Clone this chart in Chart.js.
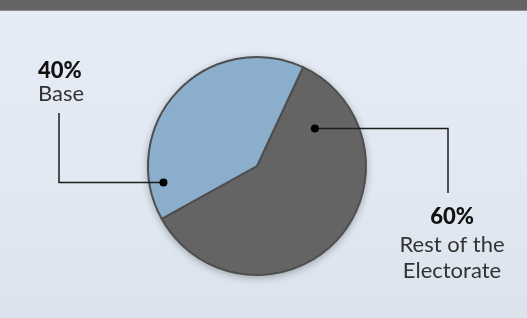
<!DOCTYPE html>
<html>
<head>
<meta charset="utf-8">
<script src="https://cdn.jsdelivr.net/npm/chart.js@4"></script>
<style>
  html, body { margin: 0; padding: 0; }
  body {
    width: 527px; height: 318px; overflow: hidden; position: relative;
    background: linear-gradient(to bottom, #e6ecf6 0%, #e2e9f3 50%, #dbe4ed 100%);
  }
  #bar {
    position: absolute; left: 0; top: 0; width: 527px; height: 10px;
    background: #646564; border-bottom: 1px solid #8c8e8f;
  }
  #wrap { position: absolute; left: 0; top: 0; width: 527px; height: 318px; }
</style>
</head>
<body>
<div id="bar"></div>
<div id="wrap"><canvas id="chart"></canvas></div>
<script>
// Slice data
const categories = ['Rest of the Electorate', 'Base'];
const shares = [60, 40];
const pctLabels = ['60%', '40%'];
const labelLines = [['Rest of the', 'Electorate'], ['Base']];
const sliceColors = ['#646464', '#8aaecb'];

// where the leader line starts inside each slice (angle clockwise from top, distance from centre)
// and where it bends / ends
const callouts = [
  { angle: 57, dist: 69, bendX: 448, endY: 193, textX: 452, pctY: 224, lineY: [252, 278], align: 'center' },
  { angle: 260, dist: 95, bendX: 59, endY: 113, textX: 38, pctY: 78, lineY: [101], align: 'left' }
];

const shadowPlugin = {
  id: 'pieShadow',
  beforeDatasetsDraw(chart) {
    const arc = chart.getDatasetMeta(0).data[0];
    if (!arc) return;
    const ctx = chart.ctx;
    ctx.save();
    ctx.shadowColor = 'rgba(0,0,0,0.35)';
    ctx.shadowBlur = 9;
    ctx.shadowOffsetY = 2;
    ctx.fillStyle = '#5a5a5a';
    ctx.beginPath();
    ctx.arc(arc.x, arc.y, arc.outerRadius, 0, Math.PI * 2);
    ctx.fill();
    ctx.restore();
  }
};

const calloutPlugin = {
  id: 'callouts',
  afterDatasetsDraw(chart) {
    const ctx = chart.ctx;
    const arcs = chart.getDatasetMeta(0).data;
    ctx.save();
    arcs.forEach((arc, i) => {
      const c = callouts[i];
      const a = (c.angle - 90) * Math.PI / 180;
      const px = arc.x + c.dist * Math.cos(a);
      const py = arc.y + c.dist * Math.sin(a);

      ctx.strokeStyle = '#1e1e1e';
      ctx.lineWidth = 1.5;
      ctx.beginPath();
      ctx.moveTo(px, py);
      ctx.lineTo(c.bendX, py);
      ctx.lineTo(c.bendX, c.endY);
      ctx.stroke();

      ctx.fillStyle = '#000';
      ctx.beginPath();
      ctx.arc(px, py, 4, 0, Math.PI * 2);
      ctx.fill();

      ctx.textAlign = c.align;
      ctx.textBaseline = 'alphabetic';
      ctx.fillStyle = '#111';
      ctx.font = '900 22px Lato, sans-serif';
      ctx.fillText(pctLabels[i], c.textX, c.pctY);
      ctx.fillStyle = '#333';
      ctx.font = '22px Lato, sans-serif';
      labelLines[i].forEach((t, k) => ctx.fillText(t, c.textX, c.lineY[k]));
    });
    ctx.restore();
  }
};

new Chart(document.getElementById('chart'), {
  type: 'pie',
  data: {
    labels: categories,
    datasets: [{
      data: shares,
      backgroundColor: sliceColors,
      borderColor: '#4e4e4e',
      borderWidth: 2
    }]
  },
  options: {
    responsive: true,
    maintainAspectRatio: false,
    animation: false,
    rotation: 25,
    layout: { padding: { left: 147, right: 160, top: 56, bottom: 42 } },
    plugins: {
      legend: { display: false },
      tooltip: { enabled: false }
    }
  },
  plugins: [shadowPlugin, calloutPlugin]
});
</script>
</body>
</html>
